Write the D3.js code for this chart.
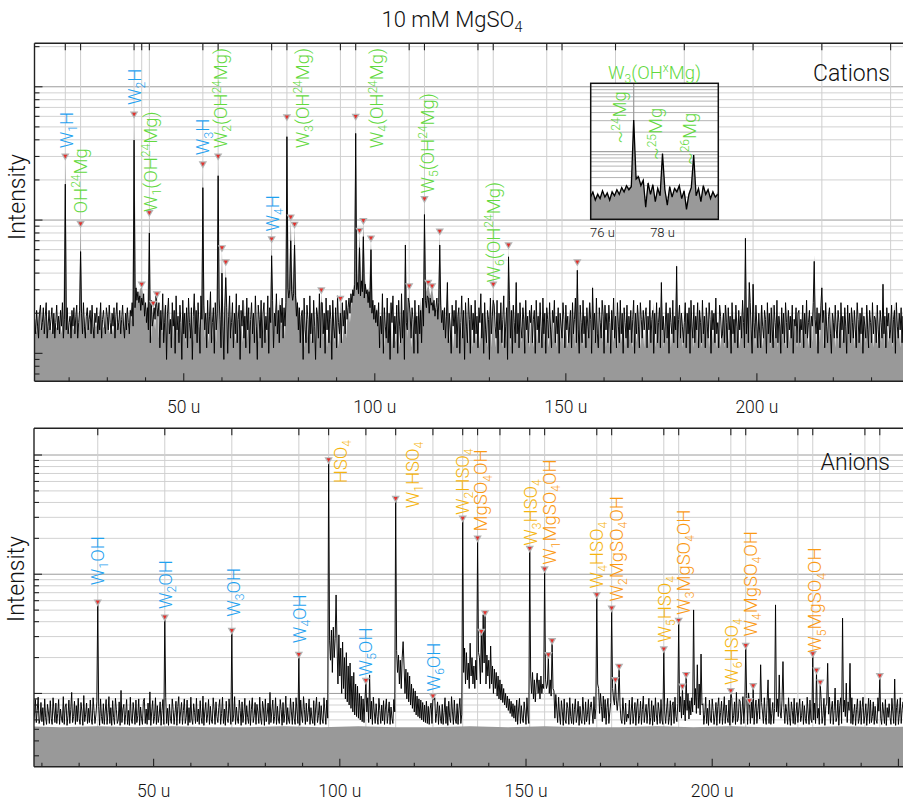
<!DOCTYPE html>
<html>
<head>
<meta charset="utf-8">
<script src="https://cdn.jsdelivr.net/npm/d3@7"></script>
<style>
  html, body { margin: 0; padding: 0; background: #fff; }
  svg { display: block; }
  text { font-family: Roboto, "Liberation Sans", sans-serif; font-weight: 300; }
</style>
</head>
<body>
<svg id="chart" width="903" height="802"></svg>
<script>
// ---------------- data ----------------
// Each row of a trace covers 10 u; black traces every 0.25 u, gray trace every 0.5 u.

// cations: rows start at 11 u, 21 u, 31 u, ...
const cationStart = 11;
const cationBlackRows = [
  [18,14,21,16,13,20,23,15,17,22,14,19,24,13,16,21,15,18,22,14,20,13,17,23,15,19,14,21,16,24,13,18,20,15,22,14,17,19,13,21],
  [16,22,14,19,23,13,17,21,15,20,14,24,16,13,19,22,15,18,21,14,23,16,13,20,17,22,14,19,15,24,13,18,21,16,14,22,19,15,23,17],
  [14,20,16,22,13,19,24,15,17,21,14,18,23,16,13,20,15,22,17,14,21,19,24,16,28,22,31,25,29,24,27,21,26,23,28,19,24,17,22,15],
  [20,12,25,16,10,22,18,27,13,19,24,11,21,15,28,12,17,23,9,20,26,14,18,11,24,16,21,10,27,15,19,12,23,17,9,25,14,20,13,22],
  [11,26,17,13,22,9,19,28,14,21,12,24,16,10,27,18,13,23,15,20,11,25,14,19,29,12,17,22,10,24,15,20,13,26,18,11,21,16,9,23],
  [15,22,10,19,27,13,17,24,11,20,14,28,12,18,23,9,21,16,25,13,19,11,26,15,22,10,18,24,14,20,12,27,16,9,23,18,13,25,11,20],
  [24,12,19,15,27,10,22,17,13,25,11,20,16,28,14,21,12,23,17,26,13,22,16,24,28,31,26,30,24,29,25,28,23,27,19,24,15,22,12,19],
  [21,9,26,15,12,23,18,10,27,14,20,12,25,16,9,22,19,13,28,11,17,24,14,20,10,26,15,21,12,23,18,9,25,16,13,22,11,27,17,14],
  [20,12,24,16,21,14,25,18,22,26,20,28,24,30,27,33,36,30,34,28,32,27,35,29,31,26,33,28,30,24,29,22,27,20,25,18,23,17,21,16],
  [24,11,19,14,28,10,22,16,13,26,12,20,9,24,17,27,11,19,14,23,10,25,16,12,28,13,21,9,24,17,15,26,11,20,13,22,18,10,25,14],
  [19,10,23,14,21,12,26,16,28,25,22,27,24,20,26,23,27,21,25,19,22,26,18,24,20,23,17,21,15,22,13,19,24,12,20,15,10,23,16,21],
  [14,25,11,19,22,10,17,27,13,21,9,24,16,12,26,18,10,23,15,20,12,25,14,19,11,22,17,28,13,20,10,24,15,12,21,18,9,26,14,19],
  [11,23,16,13,25,10,20,15,24,12,18,27,11,16,22,9,19,25,13,21,10,23,17,12,26,14,20,11,24,16,13,22,18,10,25,15,19,12,21,17],
  [23,12,18,21,10,25,15,19,12,24,16,11,26,14,20,10,22,18,13,24,15,11,21,17,25,12,19,14,22,10,20,16,13,24,18,11,23,15,19,12],
  [16,21,11,24,14,18,26,12,20,15,10,23,17,12,25,14,19,11,22,16,13,24,18,10,21,15,20,12,26,14,11,22,17,13,25,19,10,23,15,20],
  [12,23,17,10,21,15,26,13,19,11,24,16,12,25,14,20,10,22,17,13,23,11,19,15,21,12,18,25,10,20,14,23,16,11,24,18,13,21,15,19],
  [22,11,19,15,25,12,18,21,10,20,14,24,12,17,22,11,23,15,19,12,16,24,13,20,10,22,17,14,25,12,19,15,21,11,18,23,13,20,16,12],
  [17,24,11,20,14,22,10,25,16,13,23,12,19,15,24,11,21,17,12,25,14,19,11,22,16,13,24,18,10,21,15,20,12,26,14,17,11,23,19,13],
  [14,20,12,23,17,11,22,15,19,10,24,14,18,12,23,16,11,21,15,19,13,25,17,11,20,14,22,12,18,24,15,10,21,17,13,23,16,11,20,14],
  [11,23,16,13,21,18,10,24,14,20,12,22,15,11,23,17,13,25,12,19,16,10,22,14,20,12,24,17,11,21,15,19,13,23,10,18,16,22,12,20],
  [21,12,18,15,23,11,20,14,25,13,17,21,11,19,16,24,12,18,14,22,10,20,15,23,13,17,21,11,24,16,12,19,22,14,10,20,17,13,23,15],
  [13,21,17,11,24,15,19,12,22,16,10,23,14,20,12,22,17,13,21,15,11,24,18,12,20,14,22,10,19,16,13,23,15,11,21,17,12,24,14,19],
  [18,12,23,15,11,21,17,13,24,14,19,11,22,16,20,13,15,23,12,18,21,10,24,16,13,20,15,22,12,19,14]
];
const cationGrayRows = [
  [17,14,20,15,18,14,21,15,17,14,19,16,15,18,14,20,15,17,14,19],
  [16,14,21,15,17,14,19,14,20,15,18,14,17,15,22,14,16,14,19,14],
  [17,14,20,15,18,14,19,15,22,14,22,17,26,33,24,30,28,26,18,24],
  [18,13,21,15,20,13,19,14,24,13,18,13,22,12,19,14,17,13,21,12],
  [20,13,18,12,23,14,17,12,20,13,19,12,26,13,18,12,22,13,17,12],
  [19,12,23,13,18,12,21,13,17,12,24,12,19,13,20,12,17,12,22,12],
  [18,12,21,13,19,12,24,14,26,16,22,13,25,33,28,31,21,26,22,16],
  [22,11,18,13,20,12,17,11,23,12,19,13,21,11,18,12,24,12,19,11],
  [20,12,18,13,24,17,26,33,40,37,30,33,32,35,28,31,23,24,19,22],
  [19,12,22,11,18,13,24,11,20,12,18,11,22,12,25,13,19,11,17,12],
  [21,12,26,15,30,29,24,27,28,24,21,22,19,18,22,15,18,12,20,11],
  [18,11,22,12,19,11,17,12,24,11,20,12,18,11,21,12,19,11,23,11],
  [20,11,18,12,22,11,19,12,17,11,23,12,20,11,18,12,24,11,19,11],
  [21,11,18,12,22,11,19,12,24,11,18,12,20,11,22,12,19,11,17,11],
  [22,12,19,11,24,12,18,11,20,12,23,11,19,12,21,11,18,12,25,11],
  [19,11,22,12,18,11,21,12,19,11,23,12,20,11,18,12,22,11,19,11],
  [21,11,18,12,24,11,19,12,20,11,18,12,22,11,19,12,23,11,20,11],
  [18,11,22,12,19,11,20,12,23,11,18,12,21,11,19,12,22,11,18,11],
  [20,11,24,12,18,11,21,12,19,11,22,12,18,11,20,12,23,11,19,11],
  [22,11,18,12,20,11,24,12,19,11,21,12,18,11,22,12,20,11,19,11],
  [19,11,21,12,23,11,18,12,20,11,22,12,19,11,24,12,18,11,21,11],
  [20,11,19,12,22,11,18,12,21,11,23,12,19,11,20,12,22,11,18,11],
  [21,11,19,12,22,11,18,12,20,11,24,12,19,11,21,11]
];
// cation peaks: [mass (u), black trace height, gray trace height]
const cationPeaks = [
  [19,186,292],[23,58,91],[37,398,603],[39,26,32],[41,80,110],[42,18,23],[43,22,27],
  [55,175,255],[59,215,292],[60,40,60],[61,37,47],[73,54,70],[77,422,575],[78,70,102],
  [79,65,90],[86,24,29],[91,20,25],[95,447,580],[96,62,81],[97,75,96],[99,60,71],
  [108,65,70],[109,24,31],[113,110,140],[114,26,33],[115,24,31],[117,65,80],[119,34,36],
  [131,25,32],[135,53,63],[137,34,36],[153,42,47],[157,31,33],[175,34,36],[179,45,48],
  [197,73,80],[198,34,36],[199,33,35],[215,49,55],[217,31,33],[233,33,35]
];
const cationMarked = [19,23,37,39,41,42,43,55,59,60,61,73,77,78,79,86,91,95,96,97,99,
  109,113,114,115,117,131,135,153];
const cationGridMass = [19,23,37,39,41,55,59,73,77,91,95,109,113,127,131,145,149,163,181,199,217,235];
// [label, family, mass at label centre, intensity at label foot]
const cationLabels = [
  ["W_1H","water",19.3,345],
  ["OH^24Mg","mg",23.0,112],
  ["W_2H","water",37.0,729],
  ["W_1(OH^24Mg)","mg",41.2,115],
  ["W_3H","water",55.0,307],
  ["W_2(OH^24Mg)","mg",59.7,345],
  ["W_4H","water",73.1,82],
  ["W_3(OH^24Mg)","mg",81.1,345],
  ["W_4(OH^24Mg)","mg",100.5,345],
  ["W_5(OH^24Mg)","mg",113.7,158],
  ["W_6(OH^24Mg)","mg",131.1,34]
];

// anions: rows start at 17.5 u, 27.5 u, ...
const anionStart = 17.5;
const anionBlackRows = [
  [78,55,66,89,57,72,93,56,61,84,58,76,54,90,63,55,81,70,56,87,62,55,92,71,57,83,56,68,89,55,74,62,57,94,55,77,82,54,65,88],
  [56,73,102,57,64,86,55,79,58,91,62,55,84,70,54,96,58,67,83,56,75,57,88,61,55,92,72,56,66,85,57,78,54,90,64,56,82,55,71,89],
  [55,69,94,56,76,54,87,63,55,91,73,56,60,85,54,106,57,74,81,55,67,89,55,72,54,93,61,56,84,70,55,88,57,65,90,54,77,62,55,86],
  [91,56,74,55,83,60,103,54,71,87,56,64,92,55,79,57,66,85,54,72,89,55,68,93,56,75,54,81,62,56,90,73,55,69,86,54,78,94,56,70],
  [84,55,72,90,56,63,88,54,76,57,93,61,55,82,69,56,91,58,74,55,87,63,56,95,54,71,84,57,66,89,55,78,60,56,92,73,55,85,64,57],
  [76,89,55,68,93,56,74,54,86,62,57,90,71,55,83,58,66,94,55,77,61,56,88,72,54,85,57,69,91,55,79,63,56,87,54,73,92,57,65,84],
  [55,81,70,56,93,62,55,86,74,54,90,58,67,83,55,102,57,71,88,56,64,92,55,78,61,56,89,73,54,84,57,68,95,55,76,60,56,91,70,55],
  [85,62,55,92,71,56,80,54,88,66,57,94,73,55,83,58,69,90,55,76,62,56,87,54,74,93,57,65,85,55,79,61,56,92,70,55,88,62,300,280],
  [190,340,150,360,200,290,600,260,120,310,140,240,100,270,110,200,90,220,85,170,80,180,75,140,70,150,66,120,64,115,62,100,60,95,58,90,57,88,120,70],
  [92,57,104,61,86,55,93,70,56,82,64,55,91,72,56,80,59,87,55,74,90,56,68,85,55,77,62,56,89,70,300,230,150,210,120,190,110,200,272,170],
  [100,160,90,150,85,140,80,120,75,110,70,105,66,95,64,90,62,88,60,84,58,80,57,86,56,78,55,74,83,56,70,88,92,57,68,85,55,79,62,56],
  [81,55,69,92,56,78,54,86,63,57,94,70,55,88,61,56,82,55,74,91,56,67,300,150,240,120,220,130,180,110,260,140,200,120,170,110,190,130,1940,220],
  [200,120,320,150,458,180,230,120,210,140,190,110,250,120,170,100,160,110,150,95,140,90,130,88,120,84,110,80,100,76,95,72,90,68,86,64,82,62,79,58],
  [88,55,74,91,56,79,62,57,85,70,55,92,66,56,1590,140,100,150,90,130,85,120,148,100,130,90,140,100,120,110,1070,130,110,120,204,100,130,95,267,110],
  [105,62,98,74,57,93,66,55,87,71,54,90,60,56,84,75,55,92,64,56,82,55,73,90,57,66,86,54,78,61,56,93,70,55,85,58,67,89,55,76],
  [85,70,56,94,61,75,649,120,110,68,100,78,58,95,62,89,55,76,91,56,70,84,502,110,90,80,126,88,72,90,163,80,61,56,92,70,55,83,58,67],
  [62,88,55,71,93,56,68,84,54,77,90,56,65,86,55,73,95,57,69,81,56,74,91,55,63,87,54,79,58,92,66,55,84,71,56,89,60,55,228,70],
  [56,74,91,55,63,87,54,79,85,56,93,64,58,82,396,70,94,62,111,66,88,59,139,72,100,61,87,66,92,70,502,80,110,68,174,75,120,66,214,80],
  [82,55,67,93,56,75,54,88,61,57,90,72,55,66,84,54,78,92,56,69,86,55,71,94,56,80,63,57,88,54,74,91,57,65,85,55,102,58,62,89],
  [86,55,71,94,56,80,63,96,55,101,70,56,85,62,93,55,74,88,56,72,90,61,55,84,70,56,92,63,55,87,72,56,91,55,68,84,56,75,553,70],
  [90,64,143,70,62,88,185,76,56,81,70,55,92,63,54,85,72,56,91,55,68,84,57,74,90,58,65,86,55,79,62,56,93,70,55,88,61,57,208,60],
  [83,56,151,62,75,55,120,89,56,65,91,54,78,83,179,67,93,56,74,86,55,72,111,58,63,88,54,79,92,56,428,70,88,64,122,57,85,72,179,56],
  [92,55,68,81,54,73,90,56,62,87,55,76,93,56,65,82,54,70,91,56,88,57,64,85,55,78,60,56,92,71,136,62,55,84,70,56,89,54,76,63],
  [82,63,55,91,70,56,132,54,76,89,55,67,92,56,74,85,55,70,88]
];
// flat reference trace under the anion spectrum
const anionGrayMass = [15,25,35,45,55,65,75,85,95,105,115,125,135,145,155,165,175,185,195,205,215,225,235,245,255];
const anionGrayLevel = [53,52,53,52,53,52,52,53,52,53,52,52,53,52,53,52,52,53,52,53,52,52,53,52,53];
// anion peaks: [mass (u), height]
const anionPeaks = [
  [35,564],[53,422],[71,326],[89,205],[97,8800],[99,670],[107,124],[108,143],
  [115,4170],[117,272],[125,92],[133,2850],[135,264],[137,1940],[138,320],[139,458],
  [151,1590],[153,148],[155,1070],[156,204],[157,267],[169,649],[173,502],[174,126],
  [175,163],[187,228],[191,396],[192,111],[193,139],[195,502],[196,174],[197,214],
  [205,102],[209,244],[210,84],[211,112],[213,174],[215,130],[217,553],[218,143],
  [219,185],[227,208],[228,151],[229,120],[231,179],[233,111],[235,428],[236,122],
  [237,179],[245,136],[249,132]
];
const anionMarked = [35,53,71,89,97,107,115,125,133,137,138,139,151,155,156,157,169,173,
  174,175,187,191,192,193,205,209,210,211,227,228,229,245];
const anionGridMass = [35,53,71,89,97,107,115,125,133,137,143,151,155,169,173,187,191,205,209,223,227,241,245];
const anionLabels = [
  ["W_1OH","water",34.8,810],
  ["W_2OH","water",53.3,510],
  ["W_3OH","water",71.5,440],
  ["W_4OH","water",89.2,264],
  ["W_5OH","water",106.8,139],
  ["W_6OH","water",125.2,104],
  ["HSO_4","hso4",100.05,5790],
  ["W_1HSO_4","hso4",119.5,3570],
  ["W_2HSO_4","hso4",132.9,3140],
  ["MgSO_4OH","mgso4",137.9,2280],
  ["W_3HSO_4","hso4",151.3,1730],
  ["W_1MgSO_4OH","mgso4",156.2,1200],
  ["W_4HSO_4","hso4",168.9,760],
  ["W_2MgSO_4OH","mgso4",174.2,590],
  ["W_5HSO_4","hso4",187.3,267],
  ["W_3MgSO_4OH","mgso4",192.2,456],
  ["W_6HSO_4","hso4",205.2,118],
  ["W_4MgSO_4OH","mgso4",210.2,300],
  ["W_5MgSO_4OH","mgso4",227.6,219]
];

// zoomed Mg isotope window around 77 u, sampled every 0.08 u from 75.6 u
const insetStart = 75.6, insetStep = 0.08;
const insetBlack = [20,24,18,22,19,25,20,23,18,24,21,26,22,28,24,30,26,29,307,38,41,30,36,14,33,22,31,17,
  27,21,94,26,15,29,20,27,24,30,19,25,13,22,28,89,21,27,17,30,22,26,19,24,20,22];
const insetGray = [21,25,19,24,20,26,21,25,19,26,22,27,23,29,25,31,28,30,330,42,44,33,39,17,35,24,33,18,
  30,23,98,28,17,31,21,29,26,32,20,27,16,24,30,92,22,29,18,32,24,28,20,26,21,24];
const insetGridMass = [77.04];
const insetTicks = [76, 78];
const insetLabels = [["~^24Mg",76.58,134],["~^25Mg",77.78,74.5],["~^26Mg",78.89,62.4]];

const axisTickValues = [50, 100, 150, 200];

const familyColor = { water: "#1fa2f0", mg: "#63d93f", hso4: "#f6b50f", mgso4: "#fb9a14" };

// ---------------- drawing ----------------
const svg = d3.select("#chart");
const defs = svg.append("defs");
const LABEL_SIZE = 18.5;

// text with _sub and ^sup runs
function richText(sel, str, size) {
  const re = /([_^])([0-9x]+)|([^_^]+)/g;
  let m, shift = 0;
  while ((m = re.exec(str))) {
    if (m[3] !== undefined) {
      sel.append("tspan").attr("font-size", size).attr("dy", -shift).text(m[3]);
      shift = 0;
    } else {
      const s = m[1] === "_" ? size * 0.22 : -size * 0.36;
      sel.append("tspan").attr("font-size", size * 0.65).attr("dy", s - shift).text(m[2]);
      shift = s;
    }
  }
}

const isDecade = v => Math.abs(Math.log10(v) - Math.round(Math.log10(v))) < 1e-6;

// flatten 10 u rows into {m, v} points
function fromRows(rows, start, step) {
  const out = [];
  rows.forEach((row, r) => row.forEach((v, j) => out.push({ m: start + r * 10 + j * step, v })));
  return out;
}
function setPeak(points, m, v) {
  const p = points.find(q => Math.abs(q.m - m) < 1e-6);
  if (p) p.v = v;
}

function marker(g, cx, cy) {
  g.append("path").attr("d", `M${cx-4.2},${cy-4.5}L${cx+4.2},${cy-4.5}L${cx},${cy+2.8}Z`).attr("fill", "#b4b4b4");
  g.append("path").attr("d", `M${cx-2},${cy-3.3}L${cx+2},${cy-3.3}L${cx},${cy+0.4}Z`).attr("fill", "#e3302c");
}

function drawPanel(p) {
  const x = d3.scaleLinear().domain(p.xDomain).range([p.left, p.right]);
  const y = d3.scaleLog().domain(p.yDomain).range([p.bottom, p.top]);
  const g = svg.append("g");
  defs.append("clipPath").attr("id", p.id + "-clip").append("rect")
    .attr("x", p.left).attr("y", p.top).attr("width", p.right - p.left).attr("height", p.bottom - p.top);

  const yt = y.ticks();
  // horizontal grid
  g.append("g").selectAll("line").data(yt).join("line")
    .attr("x1", p.left).attr("x2", p.right)
    .attr("y1", d => y(d)).attr("y2", d => y(d))
    .attr("stroke", d => isDecade(d) ? "#9c9c9c" : "#d2d2d2").attr("stroke-width", 1);
  // vertical grid at ion series positions
  g.append("g").selectAll("line").data(p.gridMass).join("line")
    .attr("x1", d => x(d)).attr("x2", d => x(d))
    .attr("y1", p.top).attr("y2", p.bottom)
    .attr("stroke", "#cfcfcf").attr("stroke-width", 1);

  // spectra
  p.peaks.forEach(pk => {
    setPeak(p.black, pk[0], pk[1]);
    if (pk.length > 2) setPeak(p.gray, pk[0], pk[2]);
  });
  const plot = g.append("g").attr("clip-path", `url(#${p.id}-clip)`);
  plot.append("path").datum(p.gray)
    .attr("d", d3.area().x(d => x(d.m)).y0(p.bottom).y1(d => y(d.v)))
    .attr("fill", "#999999");
  plot.append("path").datum(p.black)
    .attr("d", d3.line().x(d => x(d.m)).y(d => y(d.v)))
    .attr("fill", "none").attr("stroke", "#000").attr("stroke-width", p.lineWidth)
    .attr("stroke-linejoin", "miter").attr("stroke-miterlimit", 2);

  // peak markers
  const mk = g.append("g");
  p.marked.forEach(m => {
    const pk = p.peaks.find(q => q[0] === m);
    const v = pk.length > 2 ? pk[2] : pk[1];
    marker(mk, x(m), y(v));
  });

  // frame
  const ax = g.append("g").attr("stroke", "#222").attr("stroke-width", 1.4);
  ax.append("line").attr("x1", p.left).attr("x2", p.right).attr("y1", p.top).attr("y2", p.top);
  ax.append("line").attr("x1", p.left).attr("x2", p.right).attr("y1", p.bottom).attr("y2", p.bottom);
  ax.append("line").attr("x1", p.left).attr("x2", p.left).attr("y1", p.top).attr("y2", p.bottom);
  // left ticks (inward)
  ax.append("g").selectAll("line").data(yt).join("line")
    .attr("x1", p.left).attr("x2", d => p.left + (isDecade(d) ? 8 : 5))
    .attr("y1", d => y(d)).attr("y2", d => y(d)).attr("stroke-width", 1.1);
  // top ticks at ion series positions
  ax.append("g").selectAll("line").data(p.gridMass).join("line")
    .attr("x1", d => x(d)).attr("x2", d => x(d))
    .attr("y1", p.top).attr("y2", p.top + 7).attr("stroke-width", 1.1);
  // bottom ticks every 10 u
  ax.append("g").selectAll("line").data(x.ticks(23)).join("line")
    .attr("x1", d => x(d)).attr("x2", d => x(d))
    .attr("y1", p.bottom).attr("y2", d => p.bottom - (d % 50 === 0 ? 8 : 4)).attr("stroke-width", 1.1);
  // tick labels
  g.append("g").selectAll("text").data(axisTickValues).join("text")
    .attr("x", d => x(d)).attr("y", p.tickLabelY).attr("text-anchor", "middle")
    .attr("font-size", 17.5).attr("fill", "#111").text(d => d + " u");

  // axis title and panel name
  g.append("text").attr("transform", `translate(${p.ylabelX},${p.ylabelY}) rotate(-90)`)
    .attr("text-anchor", "middle").attr("font-size", 23).attr("fill", "#111").text("Intensity");
  g.append("text").attr("x", 890).attr("y", p.nameY).attr("text-anchor", "end")
    .attr("font-size", 23).attr("fill", "#111").text(p.name);

  // peak labels
  p.labels.forEach(([txt, fam, m, v]) => {
    const t = g.append("text")
      .attr("transform", `translate(${x(m) + 6.5},${y(v)}) rotate(-90)`)
      .attr("fill", familyColor[fam]).attr("font-size", LABEL_SIZE);
    richText(t, txt, LABEL_SIZE);
  });
}

// title
{
  const t = svg.append("text").attr("x", 452).attr("y", 27).attr("text-anchor", "middle")
    .attr("font-size", 22).attr("fill", "#111");
  richText(t, "10 mM MgSO_4", 22);
}

drawPanel({
  id: "cations", name: "Cations", nameY: 80.7, lineWidth: 0.95,
  left: 34.5, right: 904, top: 43.3, bottom: 381.3,
  xDomain: [10.94, 238.5], yDomain: [6.17, 2119],
  black: fromRows(cationBlackRows, cationStart, 0.25),
  gray: fromRows(cationGrayRows, cationStart, 0.5),
  peaks: cationPeaks, marked: cationMarked, gridMass: cationGridMass, labels: cationLabels,
  tickLabelY: 412.5, ylabelX: 25, ylabelY: 197
});

drawPanel({
  id: "anions", name: "Anions", nameY: 470, lineWidth: 0.95,
  left: 34, right: 904, top: 428.3, bottom: 766.7,
  xDomain: [17.88, 251.5], yDomain: [24.3, 16750],
  black: fromRows(anionBlackRows, anionStart, 0.25),
  gray: anionGrayMass.map((m, i) => ({ m, v: anionGrayLevel[i] })),
  peaks: anionPeaks, marked: anionMarked, gridMass: anionGridMass, labels: anionLabels,
  tickLabelY: 797, ylabelX: 24, ylabelY: 579
});

// inset: Mg isotope pattern of W3(OH Mg)
{
  const box = { left: 590.7, right: 718.3, top: 83.3, bottom: 219.3 };
  const x = d3.scaleLinear().domain([75.607, 79.86]).range([box.left, box.right]);
  const y = d3.scaleLog().domain([9.12, 1128]).range([box.bottom, box.top]);
  const g = svg.append("g");
  defs.append("clipPath").attr("id", "inset-clip").append("rect")
    .attr("x", box.left).attr("y", box.top).attr("width", box.right - box.left).attr("height", box.bottom - box.top);
  g.append("rect").attr("x", box.left).attr("y", box.top).attr("width", box.right - box.left)
    .attr("height", box.bottom - box.top).attr("fill", "#fff");
  const inner = g.append("g").attr("clip-path", "url(#inset-clip)");
  inner.append("g").selectAll("line").data(y.ticks()).join("line")
    .attr("x1", box.left).attr("x2", box.right).attr("y1", d => y(d)).attr("y2", d => y(d))
    .attr("stroke", d => isDecade(d) ? "#8c8c8c" : "#b4b4b4").attr("stroke-width", 1);
  inner.append("g").selectAll("line").data(insetGridMass).join("line")
    .attr("x1", d => x(d)).attr("x2", d => x(d)).attr("y1", box.top).attr("y2", box.bottom)
    .attr("stroke", "#9a9a9a").attr("stroke-width", 1.2);
  const s = insetBlack.map((b, i) => ({ m: insetStart + i * insetStep, b, g: insetGray[i] }));
  inner.append("path").datum(s).attr("d", d3.area().x(d => x(d.m)).y0(box.bottom).y1(d => y(d.g)))
    .attr("fill", "#999999");
  inner.append("path").datum(s).attr("d", d3.line().x(d => x(d.m)).y(d => y(d.b)))
    .attr("fill", "none").attr("stroke", "#000").attr("stroke-width", 1.3);
  g.append("rect").attr("x", box.left).attr("y", box.top).attr("width", box.right - box.left)
    .attr("height", box.bottom - box.top).attr("fill", "none").attr("stroke", "#111").attr("stroke-width", 1.5);
  insetLabels.forEach(([txt, m, v]) => {
    const t = g.append("text").attr("transform", `translate(${x(m) + 6.5},${y(v)}) rotate(-90)`)
      .attr("fill", familyColor.mg).attr("font-size", LABEL_SIZE);
    richText(t, txt, LABEL_SIZE);
  });
  g.append("g").selectAll("text").data(insetTicks).join("text")
    .attr("x", d => x(d)).attr("y", 236.7).attr("text-anchor", "middle")
    .attr("font-size", 13).attr("fill", "#111").text(d => d + " u");
  const t = g.append("text").attr("x", 654.5).attr("y", 79).attr("text-anchor", "middle")
    .attr("fill", familyColor.mg).attr("font-size", LABEL_SIZE);
  richText(t, "W_3(OH^xMg)", LABEL_SIZE);
}
</script>
</body>
</html>
